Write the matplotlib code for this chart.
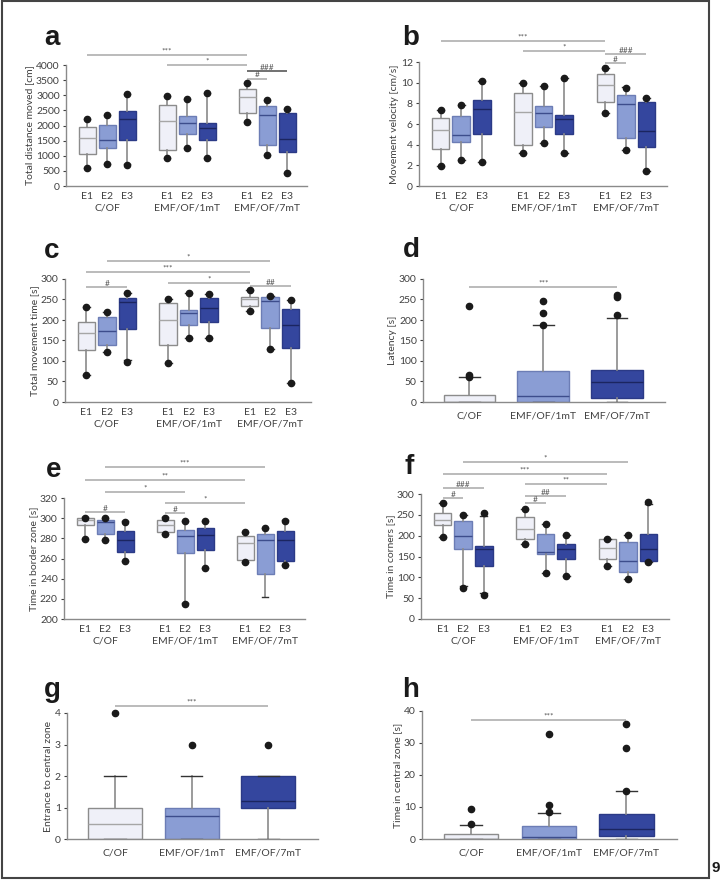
import matplotlib
matplotlib.use("Agg")
import matplotlib.pyplot as plt
from matplotlib.patches import Rectangle

plt.rcParams['font.family'] = ['Lato', 'DejaVu Sans']

# Groups and sessions
groups = ['C/OF', 'EMF/OF/1mT', 'EMF/OF/7mT']
sessions = ['E1', 'E2', 'E3']

# Box stats: (whisker low, q1, median, q3, whisker high), order C/OF E1..E3, 1mT E1..E3, 7mT E1..E3
distance_box = [
    (600, 1070, 1590, 1960, 2200),
    (740, 1270, 1510, 2030, 2340),
    (720, 1510, 2200, 2470, 3050),
    (940, 1200, 2150, 2680, 2990),
    (1260, 1710, 2070, 2310, 2890),
    (940, 1510, 1930, 2090, 3060),
    (2110, 2420, 2930, 3220, 3410),
    (1040, 1370, 2340, 2640, 2840),
    (430, 1120, 1560, 2420, 2560),
]
distance_dots = [[600, 2200], [730, 2340], [700, 3050], [940, 2990], [1260, 2890],
                 [940, 3060], [2110, 3410], [1040, 2840], [430, 2560]]

velocity_box = [
    (1.97, 3.61, 5.39, 6.58, 7.32),
    (2.48, 4.23, 4.97, 6.77, 7.8),
    (2.32, 5.03, 7.45, 8.35, 10.2),
    (3.16, 4.0, 7.19, 9.0, 10.0),
    (4.16, 5.68, 7.03, 7.74, 9.7),
    (3.19, 5.03, 6.52, 6.87, 10.5),
    (7.03, 8.1, 9.8, 10.84, 11.4),
    (3.5, 4.65, 7.9, 8.84, 9.58),
    (1.42, 3.74, 5.29, 8.1, 8.55),
]
velocity_dots = [[1.97, 7.32], [2.48, 7.8], [2.32, 10.2], [3.16, 10.0], [4.16, 9.7],
                 [3.19, 10.5], [7.03, 11.4], [3.5, 9.5], [1.42, 8.55]]

movetime_box = [
    (65, 126, 169, 194, 232),
    (121, 140, 172, 208, 220),
    (103, 178, 243, 254, 265),
    (94, 140, 201, 242, 250),
    (156, 189, 216, 224, 265),
    (155, 196, 230, 254, 263),
    (222, 235, 251, 257, 273),
    (129, 181, 246, 255, 259),
    (47, 132, 189, 226, 249),
]
movetime_dots = [[65, 232], [121, 220], [98, 267], [94, 250], [156, 265],
                 [155, 263], [222, 273], [129, 259], [47, 249]]

latency_box = [
    (0, 0, 0, 18, 60),
    (0, 0, 14, 76, 188),
    (0, 10, 49, 77, 206),
]
latency_dots = [[60, 66, 233], [189, 218, 246], [211, 257, 261]]

border_box = [
    (279.5, 292.8, 297.7, 300, 300.7),
    (278.5, 284.4, 296, 298.4, 300.5),
    (257.8, 266.8, 278.5, 286.8, 297.4),
    (284, 286, 293, 298.3, 301),
    (216, 265.6, 282.3, 288.3, 297.3),
    (250.6, 268.3, 283.3, 290.6, 297.3),
    (256.6, 258.3, 275, 282.6, 286),
    (222.3, 244.3, 278.3, 284.3, 290),
    (253.3, 257.6, 278.3, 287.6, 298.3),
]
border_dots = [[279.5, 300.5], [278.5, 300.5], [257.8, 296.5], [284, 300.5], [215, 297.3],
               [250.6, 297.3], [256.6, 286], [290], [253.3, 297.3]]

corners_box = [
    (196, 225, 237, 255, 279),
    (79, 167, 200, 236, 250),
    (63, 127, 167, 175, 247),
    (181, 192, 217, 245, 263),
    (111, 155, 160, 205, 228),
    (103, 144, 168, 181, 201),
    (127, 145, 170, 191, 192),
    (95, 114, 139, 184, 201),
    (136, 140, 169, 204, 276),
]
corners_dots = [[196, 279], [75, 250], [57, 255], [181, 263], [111, 228],
                [103, 201], [127, 192], [95, 201], [136, 280]]

entrance_box = [
    (0, 0, 0.48, 1.0, 2.0),
    (0, 0, 0.73, 1.0, 2.0),
    (0, 1.0, 1.2, 2.0, 2.0),
]
entrance_dots = [[4], [3], [3]]

central_box = [
    (0, 0, 0, 1.66, 4.47),
    (0, 0, 0.5, 3.95, 8.1),
    (0, 1.04, 3.0, 7.7, 15.1),
]
central_dots = [[4.6, 9.25], [8.3, 10.7, 32.7], [15.0, 28.3, 35.9]]

# Significance bars: (from box, to box, label) -- box numbers are 1-based
sig_a = [(1, 7, '***'), (4, 7, '*'), (7, 9, '###'), (7, 8, '#')]
sig_b = [(1, 7, '***'), (4, 7, '*'), (7, 9, '###'), (7, 8, '#')]
sig_c = [(2, 8, '*'), (1, 7, '***'), (4, 7, '*'), (1, 3, '#'), (7, 9, '##')]
sig_d = [(1, 3, '***')]
sig_e = [(2, 8, '***'), (1, 7, '**'), (2, 5, '*'), (4, 7, '*'), (1, 3, '#'), (4, 5, '#')]
sig_f = [(2, 8, '*'), (1, 7, '***'), (4, 7, '**'), (1, 3, '###'), (4, 6, '##'), (1, 2, '#'), (4, 5, '#')]
sig_g = [(1, 3, '***')]
sig_h = [(1, 3, '***')]

# ---- layout / style ----
W, H = 721, 880
FILL = ['#eff0f8', '#8a9dd4', '#34469e']
EDGE = ['#8c8c8c', '#6c7db5', '#2b3a86']
MED = ['#a6a6a6', '#3d4d8c', '#1b2560']
TXT = '#404040'
GROUP_POS = [1, 2, 3, 5, 6, 7, 9, 10, 11]


def make_ax(fig, l, r, t, b):
    return fig.add_axes([l / W, 1 - b / H, (r - l) / W, (b - t) / H])


def draw_boxes(ax, box, dots, positions, colors_idx, width):
    for k, ((lo, q1, med, q3, hi), d, pos) in enumerate(zip(box, dots, positions)):
        ci = colors_idx[k]
        st = dict(whislo=lo, q1=q1, med=med, q3=q3, whishi=hi, fliers=d)
        art = ax.bxp([st], positions=[pos], widths=width, patch_artist=True,
                     capwidths=width * 0.4,
                     boxprops=dict(facecolor=FILL[ci], edgecolor=EDGE[ci], linewidth=1.0),
                     medianprops=dict(color=MED[ci], linewidth=1.0),
                     whiskerprops=dict(color='#8a8a8a', linewidth=1.2),
                     capprops=dict(color='#333333', linewidth=1.0),
                     flierprops=dict(marker='o', markerfacecolor='#1a1a1a',
                                     markeredgecolor='#1a1a1a', markersize=4.5),
                     manage_ticks=False)
        for fl in art['fliers']:
            fl.set_clip_on(False)
            fl.set_zorder(4)


def style_ax(ax, ylim, yticks, ylabel):
    ax.set_ylim(*ylim)
    ax.set_yticks(yticks)
    for s in ['top', 'right']:
        ax.spines[s].set_visible(False)
    for s in ['left', 'bottom']:
        ax.spines[s].set_color('#8a8a8a')
        ax.spines[s].set_linewidth(1.0)
    ax.tick_params(axis='y', labelsize=7.5, colors=TXT, length=2.5, width=0.8, pad=2)
    ax.tick_params(axis='x', labelsize=7.5, colors=TXT, length=0, pad=4)
    ax.set_ylabel(ylabel, fontsize=7.5, color=TXT, labelpad=1)


def grouped(ax, box, dots, ylim, yticks, ylabel):
    draw_boxes(ax, box, dots, GROUP_POS, [0, 1, 2] * 3, 0.85)
    ax.set_xlim(-0.05, 12)
    ax.set_xticks(GROUP_POS)
    ax.set_xticklabels(sessions * 3)
    style_ax(ax, ylim, yticks, ylabel)
    for g, name in enumerate(groups):
        ax.annotate(name, xy=(2 + 4 * g, 0), xycoords=('data', 'axes fraction'),
                    xytext=(0, -16), textcoords='offset points',
                    ha='center', va='center', fontsize=7.5, color=TXT)


def single(ax, box, dots, ylim, yticks, ylabel):
    draw_boxes(ax, box, dots, [1, 2, 3], [0, 1, 2], 0.7)
    ax.set_xlim(0.37, 3.65)
    ax.set_xticks([1, 2, 3])
    ax.set_xticklabels(groups)
    style_ax(ax, ylim, yticks, ylabel)
    ax.tick_params(axis='x', pad=7)


def sig(ax, bars, heights, positions, dark=()):
    for (i, j, lab), y in zip(bars, heights):
        x1, x2 = positions[i - 1], positions[j - 1]
        col = '#4a4a4a' if lab in dark else '#a8a8a8'
        ax.plot([x1, x2], [y, y], color=col, lw=1.1, clip_on=False, solid_capstyle='butt')
        ax.annotate(lab, xy=((x1 + x2) / 2, y), xytext=(0, 0.3), textcoords='offset points',
                    ha='center', va='bottom', fontsize=6, color='#555555',
                    annotation_clip=False)


fig = plt.figure(figsize=(W / 100, H / 100), dpi=100)

ax = make_ax(fig, 66, 307, 65, 186)
grouped(ax, distance_box, distance_dots, (0, 4000), range(0, 4001, 500), 'Total distance moved [cm]')
sig(ax, sig_a, [4330, 4000, 3800, 3540], GROUP_POS, dark=('###',))

ax = make_ax(fig, 419, 667, 62, 186)
grouped(ax, velocity_box, velocity_dots, (0, 12), range(0, 13, 2), 'Movement velocity [cm/s]')
sig(ax, sig_b, [14.0, 13.05, 12.75, 11.87], GROUP_POS)

ax = make_ax(fig, 65, 311, 279, 402)
grouped(ax, movetime_box, movetime_dots, (0, 300), range(0, 301, 50), 'Total movement time [s]')
sig(ax, sig_c, [344, 317, 290, 280, 283], GROUP_POS)

ax = make_ax(fig, 423, 665, 279, 402)
single(ax, latency_box, latency_dots, (0, 300), range(0, 301, 50), 'Latency [s]')
sig(ax, sig_d, [280], [1, 2, 3])

ax = make_ax(fig, 64, 305, 498, 619)
grouped(ax, border_box, border_dots, (200, 320), range(200, 321, 20), 'Time in border zone [s]')
sig(ax, sig_e, [351, 338, 326, 315, 306, 305], GROUP_POS)

ax = make_ax(fig, 421, 669, 494, 619)
grouped(ax, corners_box, corners_dots, (0, 300), range(0, 301, 50), 'Time in corners [s]')
sig(ax, sig_f, [377, 348, 324, 314, 295, 290, 278], GROUP_POS)

ax = make_ax(fig, 67, 318, 713, 839)
single(ax, entrance_box, entrance_dots, (0, 4), range(0, 5), 'Entrance to central zone')
sig(ax, sig_g, [4.22], [1, 2, 3])

ax = make_ax(fig, 422, 677, 711, 839)
single(ax, central_box, central_dots, (0, 40), range(0, 41, 10), 'Time in central zone [s]')
sig(ax, sig_h, [37.2], [1, 2, 3])

# panel letters
for lab, x, y in [('a', 52, 38), ('b', 411, 38), ('c', 52, 251), ('d', 411, 250),
                  ('e', 54, 470), ('f', 409, 467), ('g', 52, 690), ('h', 411, 690)]:
    fig.text(x / W, 1 - y / H, lab, fontsize=20, fontweight='bold',
             family='Liberation Sans', ha='center', va='center', color='#1a1a1a')

# page frame and page number
fig.add_artist(Rectangle((2 / W, 1 - 878 / H), 707 / W, 877 / H, transform=fig.transFigure,
                         fill=False, lw=1.5, ec='#444444'))
fig.text(716 / W, 1 - 868 / H, '9', fontsize=11, fontweight='bold', family='Liberation Sans',
         ha='center', va='center', color='#1a1a1a')

fig.savefig('out.png', dpi=100)
